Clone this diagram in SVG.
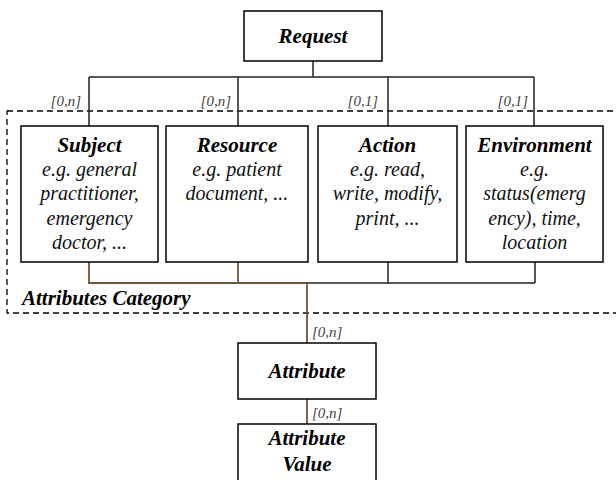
<svg xmlns="http://www.w3.org/2000/svg" width="616" height="480" viewBox="0 0 616 480">
<style>
.box{fill:#fff;stroke:#000;stroke-width:1.5}
.c{fill:none;stroke:#222;stroke-width:1.5}
.br{fill:none;stroke:#6b543e;stroke-width:1.8}
.cat{fill:none;stroke:#000;stroke-width:1.3;stroke-dasharray:6,4}
</style>
<rect width="616" height="480" fill="#fff"/>
<rect class="cat" x="7" y="111" width="620" height="202"/>
<text font-family="Liberation Serif" font-style="italic" font-weight="bold" font-size="21" x="22" y="305">Attributes Category</text>
<g id="connectors">
<path class="c" d="M313 61V77M89 77H534M89 77V126M238 77V126M388 77V126M534 77V126"/>
<path class="c" d="M388 262V283M535 262V283M307 283H535"/>
<path class="br" d="M89 262V283H307M238 262V283M307 283V343M307 399V424"/>
<text font-family="Liberation Serif" font-style="italic" font-size="15" fill="#444" x="81" y="106" text-anchor="end">[0,n]</text>
<text font-family="Liberation Serif" font-style="italic" font-size="15" fill="#444" x="231" y="106" text-anchor="end">[0,n]</text>
<text font-family="Liberation Serif" font-style="italic" font-size="15" fill="#444" x="378" y="106" text-anchor="end">[0,1]</text>
<text font-family="Liberation Serif" font-style="italic" font-size="15" fill="#444" x="528" y="106" text-anchor="end">[0,1]</text>
<text font-family="Liberation Serif" font-style="italic" font-size="15" fill="#444" x="312" y="337">[0,n]</text>
<text font-family="Liberation Serif" font-style="italic" font-size="15" fill="#444" x="312" y="418">[0,n]</text>
</g>
<g id="request">
<rect class="box" x="244" y="11" width="138" height="50"/>
<text font-family="Liberation Serif" font-style="italic" font-weight="bold" font-size="21" text-anchor="middle" x="313" y="43">Request</text>
</g>
<g id="subject">
<rect class="box" x="21" y="126" width="137" height="136"/>
<text font-family="Liberation Serif" font-style="italic" font-weight="bold" font-size="21" text-anchor="middle" x="89.5" y="152">Subject</text>
<text font-family="Liberation Serif" font-style="italic" font-size="20" text-anchor="middle" fill="#111" x="89.5" y="176">e.g. general</text>
<text font-family="Liberation Serif" font-style="italic" font-size="20" text-anchor="middle" fill="#111" x="89.5" y="200">practitioner,</text>
<text font-family="Liberation Serif" font-style="italic" font-size="20" text-anchor="middle" fill="#111" x="89.5" y="225">emergency</text>
<text font-family="Liberation Serif" font-style="italic" font-size="20" text-anchor="middle" fill="#111" x="89.5" y="249">doctor, ...</text>
</g>
<g id="resource">
<rect class="box" x="166" y="126" width="142" height="136"/>
<text font-family="Liberation Serif" font-style="italic" font-weight="bold" font-size="21" text-anchor="middle" x="237" y="152">Resource</text>
<text font-family="Liberation Serif" font-style="italic" font-size="20" text-anchor="middle" fill="#111" x="237" y="176">e.g. patient</text>
<text font-family="Liberation Serif" font-style="italic" font-size="20" text-anchor="middle" fill="#111" x="237" y="200">document, ...</text>
</g>
<g id="action">
<rect class="box" x="318" y="126" width="139" height="136"/>
<text font-family="Liberation Serif" font-style="italic" font-weight="bold" font-size="21" text-anchor="middle" x="387.5" y="152">Action</text>
<text font-family="Liberation Serif" font-style="italic" font-size="20" text-anchor="middle" fill="#111" x="387.5" y="176">e.g. read,</text>
<text font-family="Liberation Serif" font-style="italic" font-size="20" text-anchor="middle" fill="#111" x="387.5" y="200">write, modify,</text>
<text font-family="Liberation Serif" font-style="italic" font-size="20" text-anchor="middle" fill="#111" x="387.5" y="225">print, ...</text>
</g>
<g id="environment">
<rect class="box" x="466" y="126" width="137" height="136"/>
<text font-family="Liberation Serif" font-style="italic" font-weight="bold" font-size="21" text-anchor="middle" x="534.5" y="152">Environment</text>
<text font-family="Liberation Serif" font-style="italic" font-size="20" text-anchor="middle" fill="#111" x="534.5" y="176">e.g.</text>
<text font-family="Liberation Serif" font-style="italic" font-size="20" text-anchor="middle" fill="#111" x="534.5" y="200">status(emerg</text>
<text font-family="Liberation Serif" font-style="italic" font-size="20" text-anchor="middle" fill="#111" x="534.5" y="225">ency), time,</text>
<text font-family="Liberation Serif" font-style="italic" font-size="20" text-anchor="middle" fill="#111" x="534.5" y="249">location</text>
</g>
<g id="attribute">
<rect class="box" x="238" y="343" width="138" height="56"/>
<text font-family="Liberation Serif" font-style="italic" font-weight="bold" font-size="21" text-anchor="middle" x="307" y="378">Attribute</text>
</g>
<g id="attribute-value">
<rect class="box" x="238" y="424" width="138" height="62"/>
<text font-family="Liberation Serif" font-style="italic" font-weight="bold" font-size="21" text-anchor="middle" x="307" y="445">Attribute</text>
<text font-family="Liberation Serif" font-style="italic" font-weight="bold" font-size="21" text-anchor="middle" x="307" y="471">Value</text>
</g>
</svg>
